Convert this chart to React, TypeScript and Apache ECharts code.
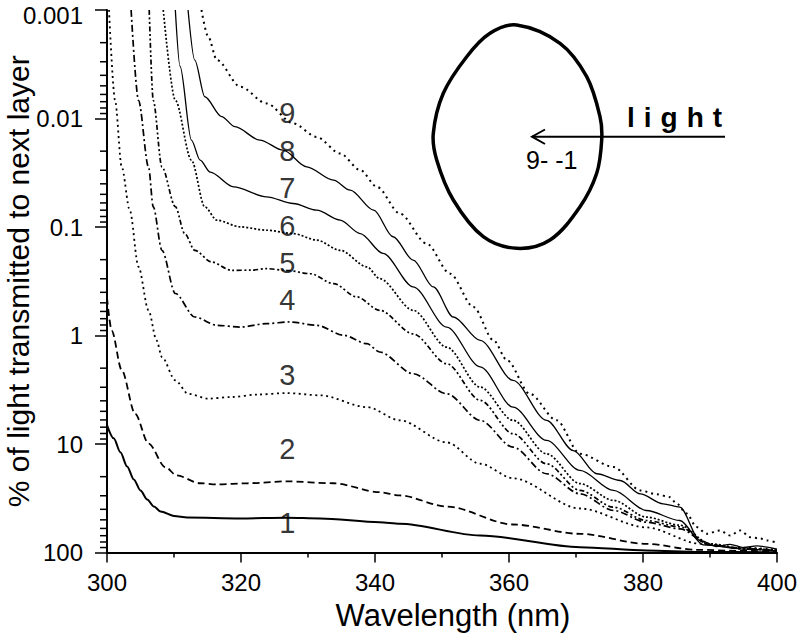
import { useEffect, useRef } from 'react';
import * as echarts from 'echarts';

const FONT = '"Liberation Sans", Arial, Helvetica, sans-serif';

// x: wavelength (nm), y: % of light transmitted (log scale, inverted)
const curve1 = [[300, 6.7], [301, 8.87], [302, 11.9], [303, 16.1], [304, 21.2], [305, 26.8], [306, 32.4], [307, 37.7], [308, 41.9], [310, 46], [312, 47.5], [319.9, 48.5], [326.8, 47.9], [331.8, 48.5], [340.7, 52.5], [343.7, 54.3], [355.7, 69.7], [370.6, 89.3], [380.5, 96], [388.5, 98.9], [400, 99.5]];
const curve2 = [[300, 0.45], [300.7, 0.9], [302.2, 2.09], [304.2, 5.26], [306.2, 9.9], [308.7, 16.3], [310.4, 19.5], [313.9, 23], [316.4, 23.6], [321, 23], [326.8, 22.1], [333.8, 23], [340.7, 27.8], [343.7, 29.8], [350.7, 37.7], [360.6, 55.2], [370.6, 67.3], [380.5, 83.2], [388, 94.4], [394, 96.5], [400, 97.7]];
const curve3 = [[300.3, 0.001], [301.2, 0.0068], [302.2, 0.028], [303.4, 0.07], [304.7, 0.233], [306.2, 0.586], [307.4, 1.11], [308.2, 1.58], [310.2, 2.59], [312.1, 3.44], [315.1, 3.82], [318.6, 3.69], [322.5, 3.5], [326.8, 3.39], [331.8, 3.56], [338.8, 4.57], [343.7, 6.05], [350.7, 9.66], [355.7, 15.2], [360.6, 20.7], [370.6, 39.3], [380.5, 58.7], [388.5, 83], [394, 90], [400, 94]];
const curve4 = [[303.6, 0.001], [304.7, 0.0068], [306.2, 0.028], [306.9, 0.065], [308.2, 0.164], [310.2, 0.41], [313.1, 0.675], [316.4, 0.805], [319.9, 0.836], [323.8, 0.777], [327.3, 0.75], [331.3, 0.805], [335.3, 0.995], [338.8, 1.19], [340.7, 1.42], [345.7, 2.25], [350.7, 3.44], [355.7, 6.05], [360.6, 10.7], [365.6, 18.8], [370.6, 28.8], [375.6, 41], [380.5, 52.6], [385.5, 60.5], [390, 85], [395, 92], [400, 96]];
const curve5 = [[306.3, 0.001], [306.9, 0.0068], [308.2, 0.028], [310.2, 0.065], [311.6, 0.115], [313.1, 0.164], [315.6, 0.21], [318.6, 0.251], [321.5, 0.25], [323.8, 0.242], [326.8, 0.251], [330.3, 0.269], [333.8, 0.332], [337.3, 0.441], [340.7, 0.586], [345.7, 0.966], [350.7, 1.82], [355.7, 3.96], [360.6, 8.04], [365.6, 15.2], [370.6, 26.8], [375.6, 38.2], [380.5, 50.7], [385.5, 58], [390, 85], [395, 93], [400, 96]];
const curve6 = [[308.4, 0.001], [310.2, 0.0068], [312.6, 0.0242], [314.6, 0.0653], [316.4, 0.0865], [319.9, 0.0998], [323.8, 0.107], [327.8, 0.115], [331.3, 0.132], [334.8, 0.164], [338.8, 0.233], [340.7, 0.299], [345.7, 0.586], [350.7, 1.28], [355.7, 2.99], [360.6, 6.05], [365.6, 12.3], [370.6, 23.2], [375.6, 33.1], [380.5, 47.2], [385.5, 56], [390, 83], [395, 92], [400, 95]];
const curve7 = [[310.2, 0.001], [310.9, 0.0033], [312.6, 0.0158], [313.9, 0.0242], [315.4, 0.0312], [318.9, 0.0427], [323.8, 0.0527], [327.8, 0.0607], [331.3, 0.07], [334.8, 0.0865], [337.8, 0.115], [341.2, 0.175], [345.7, 0.357], [350.7, 0.836], [355.7, 1.95], [360.6, 4.57], [365.6, 9.27], [370.6, 17.5], [375.6, 26.8], [380.5, 41], [385.5, 50.7], [389, 85], [395, 93], [400, 96.6]];
const curve8 = [[312.1, 0.001], [313.1, 0.0029], [314.6, 0.0063], [317.1, 0.0096], [319.1, 0.0119], [322.8, 0.0158], [326.3, 0.0196], [329.8, 0.0279], [333.8, 0.037], [336.3, 0.0458], [339.8, 0.07], [342.7, 0.123], [345.7, 0.202], [348.7, 0.357], [351.7, 0.675], [355.7, 1.11], [360.6, 2.59], [365.6, 6.05], [369.6, 11.5], [373.1, 18.8], [376.6, 21.7], [379.6, 28.8], [383, 35.6], [385.5, 38.2], [388.5, 77.4], [391, 88], [393, 84], [395, 90], [397, 87], [400, 93]];
const curve9 = [[314.1, 0.001], [315.1, 0.00176], [316.4, 0.00289], [319.9, 0.0051], [323.8, 0.00726], [327.8, 0.0111], [331.3, 0.0148], [334.8, 0.021], [337.8, 0.0299], [340.3, 0.0427], [343.7, 0.075], [347.7, 0.142], [351.2, 0.269], [354.7, 0.546], [357.7, 1.11], [359.7, 1.69], [363.1, 3.44], [367.1, 6.05], [370.6, 12.3], [375.6, 16.3], [379.6, 26.8], [382, 29], [384, 30.9], [385, 35.3], [386.5, 43.7], [388, 58.3], [389.5, 67.3], [391.5, 62.7], [393, 69.7], [394.5, 62.7], [396, 72.2], [397.5, 74.3], [398.5, 77.4], [399.7, 80.3]];

const curves = [curve1, curve2, curve3, curve4, curve5, curve6, curve7, curve8, curve9];

// curve number labels
const labelNames = ['1', '2', '3', '4', '5', '6', '7', '8', '9'];
const labelWl = [326.9, 326.9, 326.9, 326.9, 326.9, 326.9, 326.9, 326.9, 326.9];
const labelVal = [53.5, 11.2, 2.33, 0.473, 0.216, 0.0984, 0.0434, 0.02, 0.00883];

// axis ticks
const xMin = 300;
const xMax = 400;
const xInterval = 20;
const yTickValues = [0.001, 0.01, 0.1, 1, 10, 100];
const yTickLabels = ['0.001', '0.01', '0.1', '1', '10', '100'];
const yMinorTicks = [
  0.002, 0.003, 0.004, 0.005, 0.006, 0.007, 0.008, 0.009,
  0.02, 0.03, 0.04, 0.05, 0.06, 0.07, 0.08, 0.09,
  0.2, 0.3, 0.4, 0.5, 0.6, 0.7, 0.8, 0.9,
  2, 3, 4, 5, 6, 7, 8, 9,
  20, 30, 40, 50, 60, 70, 80, 90,
];

// line styles per curve
const dashes: (number[] | 'solid')[] = [
  'solid',
  [7, 4],
  [2, 3.5],
  [7, 3, 2, 3],
  [5, 2.5, 2, 2.5, 2, 2.5],
  [2, 2],
  'solid',
  'solid',
  [2, 4],
];
const widths = [2, 1.8, 1.8, 1.7, 1.7, 1.7, 1.3, 1.3, 2];

const eggPoints = [[516.7, 25], [560, 43.3], [586.7, 76.7], [600, 116.7], [601.7, 140], [596.7, 173.3], [580, 206.7], [550, 240], [516.7, 248.3], [483.3, 236.7], [453.3, 200], [436.7, 160], [433.3, 133.3], [443.3, 93.3], [466.7, 56.7], [490, 33.3]];

function yLabel(v: number): string {
  const lv = Math.log10(v);
  for (let i = 0; i < yTickValues.length; i++) {
    if (Math.abs(Math.log10(yTickValues[i]) - lv) < 0.01) return yTickLabels[i];
  }
  return '';
}

export default function App() {
  const ref = useRef<HTMLDivElement>(null);
  useEffect(() => {
    document.body.style.margin = '0';
    const chart = echarts.init(ref.current!, null, { renderer: 'svg' });
    const lineSeries = curves.map((c, i) => ({
      type: 'line',
      name: 'curve' + (i + 1),
      data: c,
      showSymbol: false,
      symbol: 'none',
      smooth: 0.3,
      smoothMonotone: 'x',
      clip: true,
      silent: true,
      lineStyle: { color: '#000', width: widths[i], type: dashes[i], cap: 'butt' },
      z: 3,
    }));
    const option: any = {
      animation: false,
      backgroundColor: '#fff',
      textStyle: { fontFamily: FONT, color: '#000' },
      grid: { left: 107, right: 23, top: 10, bottom: 87.5, containLabel: false, outerBoundsMode: 'none' },
      xAxis: {
        type: 'value',
        min: xMin,
        max: xMax,
        interval: xInterval,
        name: 'Wavelength (nm)',
        nameLocation: 'middle',
        nameGap: 47,
        nameMoveOverlap: false,
        nameTextStyle: { fontSize: 31, color: '#000', fontFamily: FONT, padding: [0, 0, 0, 22] },
        axisLine: { show: true, onZero: false, lineStyle: { color: '#000', width: 2 } },
        axisTick: { show: true, inside: false, length: 10, lineStyle: { color: '#000', width: 1.5 } },
        minorTick: { show: true, splitNumber: 2, length: 5, lineStyle: { color: '#000', width: 1.5 } },
        axisLabel: { fontSize: 24, color: '#000', fontFamily: FONT, margin: 18 },
        splitLine: { show: false },
      },
      yAxis: {
        type: 'log',
        logBase: 10,
        min: 0.001,
        max: 100,
        inverse: true,
        name: '% of light transmitted to next layer',
        nameLocation: 'middle',
        nameGap: 74,
        nameMoveOverlap: false,
        nameTextStyle: { fontSize: 30, lineHeight: 30, color: '#000', fontFamily: FONT },
        axisLine: { show: true, onZero: false, lineStyle: { color: '#000', width: 2 } },
        axisTick: { show: true, inside: false, length: 12, lineStyle: { color: '#000', width: 1.5 } },
        axisLabel: {
          fontSize: 24,
          lineHeight: 10,
          color: '#000',
          fontFamily: FONT,
          margin: 24,
          verticalAlignMinLabel: 'top',
          formatter: (v: number) => yLabel(v),
        },
        splitLine: { show: false },
      },
      series: [
        ...lineSeries,
        {
          type: 'custom',
          name: 'yMinor',
          silent: true,
          clip: false,
          data: yMinorTicks.map((v) => [xMin, v]),
          renderItem: (_p: any, api: any) => {
            const pt = api.coord([api.value(0), api.value(1)]);
            return {
              type: 'line',
              shape: { x1: pt[0] - 7, y1: pt[1], x2: pt[0], y2: pt[1] },
              style: { stroke: '#000', lineWidth: 1.5 },
            };
          },
          z: 4,
        },
        {
          type: 'scatter',
          name: 'labels',
          silent: true,
          symbolSize: 0,
          itemStyle: { color: '#000' },
          data: labelNames.map((n, i) => [labelWl[i], labelVal[i], n]),
          label: {
            show: true,
            position: 'inside',
            formatter: (p: any) => p.value[2],
            fontSize: 29,
            color: '#000',
            textBorderWidth: 0,
            fontFamily: FONT,
          },
          z: 5,
        },
      ],
      graphic: [
        {
          type: 'polygon',
          shape: { points: eggPoints, smooth: 0.35 },
          style: { fill: 'none', stroke: '#000', lineWidth: 3.5 },
          z: 10,
        },
        {
          type: 'line',
          shape: { x1: 725, y1: 136.7, x2: 532, y2: 136.7 },
          style: { stroke: '#000', lineWidth: 2 },
          z: 10,
        },
        {
          type: 'polyline',
          shape: { points: [[545, 129.5], [532, 136.7], [545, 144]] },
          style: { stroke: '#000', lineWidth: 2, fill: 'none' },
          z: 10,
        },
        {
          type: 'text',
          x: 627,
          y: 117,
          style: { text: 'light', fontSize: 28, fontWeight: 'bold', fontFamily: FONT, fill: '#000', align: 'left', verticalAlign: 'middle' },
          z: 10,
        },
        {
          type: 'text',
          x: 526,
          y: 159.5,
          style: { text: '9- -1', fontSize: 25, fontFamily: FONT, fill: '#000', align: 'left', verticalAlign: 'middle' },
          z: 10,
        },
      ],
    };
    chart.setOption(option);
    const texts = ref.current!.querySelectorAll('text');
    texts.forEach((t) => {
      if ((t.textContent || '').trim() === 'light') {
        t.setAttribute('letter-spacing', '9px');
      }
    });
    return () => chart.dispose();
  }, []);
  return <div ref={ref} style={{ position: 'absolute', left: 0, top: 0, width: 800, height: 640 }} />;
}
